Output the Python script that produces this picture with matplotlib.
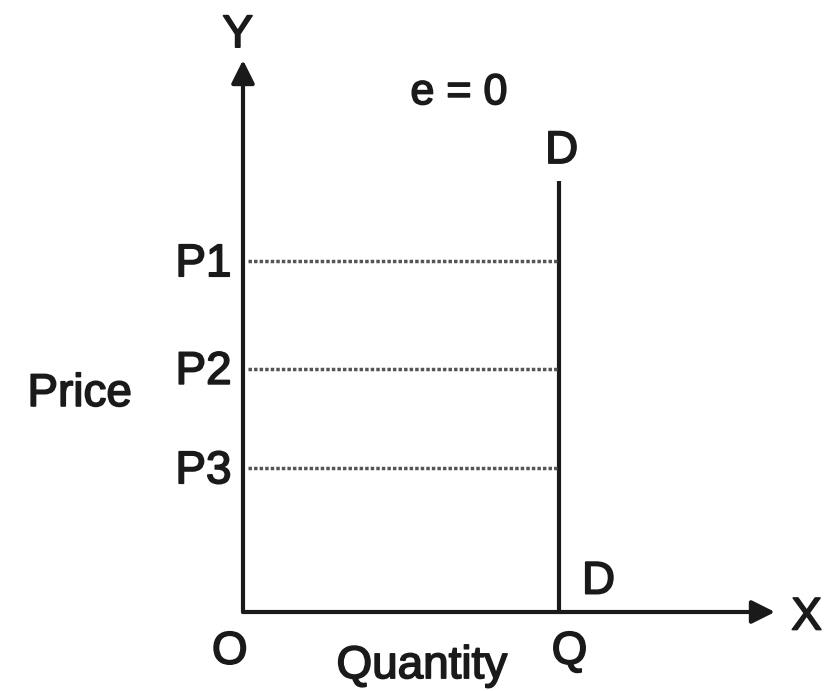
from matplotlib import pyplot as plt
from matplotlib import patheffects as pe

plt.rcParams['font.family'] = ['Liberation Sans', 'DejaVu Sans']

# perfectly inelastic demand: same quantity at every price
quantity = 6.0
price_levels = [6.35, 4.4, 2.6]
price_labels = ["P1", "P2", "P3"]
demand_top = 7.8
x_max = 10.1
y_max = 10.0

ink = "#1a1a1a"
fs = 33
heavy = [pe.withStroke(linewidth=1.2, foreground=ink)]

fig = plt.figure(figsize=(8.29, 6.91), dpi=100)
# axes frame from origin (243, 612) to arrow tips (775, 60) in pixels
ax = fig.add_axes([243 / 829, (691 - 612) / 691, (775 - 243) / 829, (612 - 60) / 691])
ax.set_xlim(0, x_max)
ax.set_ylim(0, y_max)
ax.axis("off")

# axes with arrow heads
arrow = dict(arrowstyle="-|>,head_length=1.4,head_width=0.7", color=ink, lw=3,
             shrinkA=0, shrinkB=0)
ax.annotate("", xy=(x_max, 0), xytext=(0, 0), arrowprops=arrow, annotation_clip=False)
ax.annotate("", xy=(0, y_max), xytext=(0, 0), arrowprops=arrow, annotation_clip=False)

# demand curve
ax.plot([quantity, quantity], [0, demand_top], color=ink, lw=3, solid_capstyle="butt")

# dotted price lines
for p, lab in zip(price_levels, price_labels):
    ax.plot([0.1, quantity], [p, p], color="#555555", lw=2.5, linestyle=(0, (1, 0.6)))
    ax.text(-0.22, p - 0.05, lab, ha="right", va="center", fontsize=fs, color=ink,
            clip_on=False, path_effects=heavy)


def label(x, y, s, size=fs):
    ax.text(x, y, s, ha="center", va="center", fontsize=size, color=ink,
            clip_on=False, path_effects=heavy)


label(-0.1, y_max + 0.45, "Y")
label(x_max + 0.6, -0.1, "X")
label(4.1, 9.4, "e = 0", fs - 2)
label(quantity + 0.05, demand_top + 0.55, "D")
label(quantity + 0.75, 0.55, "D")
label(-0.25, -0.72, "O")
label(quantity + 0.2, -0.72, "Q")
label(3.4, -0.98, "Quantity")
label(-3.1, 3.95, "Price")

plt.savefig("out.png", dpi=100)
